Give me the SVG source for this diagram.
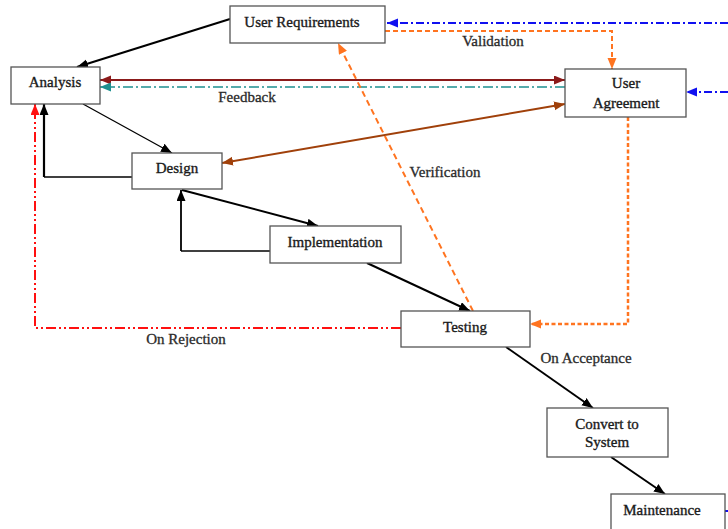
<svg xmlns="http://www.w3.org/2000/svg" width="728" height="529" viewBox="0 0 728 529">
  <style>
    .box { fill: #fff; stroke: #555; stroke-width: 1.3; }
    .lbl { font-family: "Liberation Serif", "Times New Roman", serif; font-size: 15px; fill: #1a1a1a; stroke: #1a1a1a; stroke-width: 0.35; text-anchor: middle; }
    .note { font-family: "Liberation Serif", "Times New Roman", serif; font-size: 15px; fill: #2a2a2a; stroke: #2a2a2a; stroke-width: 0.3; text-anchor: middle; }
    .ln { fill: none; }
  </style>
  <defs>
    <marker id="ahBlack" markerUnits="userSpaceOnUse" markerWidth="12" markerHeight="10" refX="11" refY="4.5" orient="auto-start-reverse"><path d="M0,0 L11,4.5 L0,9 z" fill="#000"/></marker>
    <marker id="ahMaroon" markerUnits="userSpaceOnUse" markerWidth="12" markerHeight="10" refX="11" refY="4.5" orient="auto-start-reverse"><path d="M0,0 L11,4.5 L0,9 z" fill="#8b1a1a"/></marker>
    <marker id="ahTeal" markerUnits="userSpaceOnUse" markerWidth="12" markerHeight="10" refX="11" refY="4.5" orient="auto-start-reverse"><path d="M0,0 L11,4.5 L0,9 z" fill="#1e9090"/></marker>
    <marker id="ahBrown" markerUnits="userSpaceOnUse" markerWidth="12" markerHeight="10" refX="11" refY="4.5" orient="auto-start-reverse"><path d="M0,0 L11,4.5 L0,9 z" fill="#a0400a"/></marker>
    <marker id="ahOrange" markerUnits="userSpaceOnUse" markerWidth="12" markerHeight="10" refX="11" refY="4.5" orient="auto-start-reverse"><path d="M0,0 L11,4.5 L0,9 z" fill="#ff7420"/></marker>
    <marker id="ahBlue" markerUnits="userSpaceOnUse" markerWidth="12" markerHeight="10" refX="11" refY="4.5" orient="auto-start-reverse"><path d="M0,0 L11,4.5 L0,9 z" fill="#1010f0"/></marker>
    <marker id="ahRed" markerUnits="userSpaceOnUse" markerWidth="12" markerHeight="10" refX="11" refY="4.5" orient="auto-start-reverse"><path d="M0,0 L11,4.5 L0,9 z" fill="#ff1010"/></marker>
  </defs>

  <rect width="728" height="529" fill="#fff"/>

  <g id="connectors">
    <!-- incoming blue dash-dot links from the right -->
    <path class="ln" d="M728,23 L387,23" stroke="#1010f0" stroke-width="2" stroke-dasharray="8,3,2,3" marker-end="url(#ahBlue)"/>
    <path class="ln" d="M728,92 L686,92" stroke="#1010f0" stroke-width="2" stroke-dasharray="8,3,2,3" marker-end="url(#ahBlue)"/>
    <path class="ln" d="M725,511 L740,511" stroke="#1010f0" stroke-width="2"/>

    <!-- User Requirements to Analysis -->
    <path class="ln" d="M230,19 L77,67" stroke="#000" stroke-width="2" marker-end="url(#ahBlack)"/>

    <!-- Analysis / User Agreement -->
    <path class="ln" d="M100,80 L565,80" stroke="#8b1a1a" stroke-width="2.2" marker-start="url(#ahMaroon)" marker-end="url(#ahMaroon)"/>
    <path class="ln" d="M565,87 L100,87" stroke="#1e9090" stroke-width="1.6" stroke-dasharray="10,3,2,3" marker-end="url(#ahTeal)"/>

    <!-- Validation -->
    <path class="ln" d="M385,31 L612,31 L612,69" stroke="#ff7420" stroke-width="2" stroke-dasharray="5,3" marker-end="url(#ahOrange)"/>

    <!-- Analysis to Design -->
    <path class="ln" d="M83,104 L172,153" stroke="#000" stroke-width="1.3" marker-end="url(#ahBlack)"/>
    <!-- Design back to Analysis -->
    <path class="ln" d="M132,177 L44,177" stroke="#000" stroke-width="1.3"/>
    <path class="ln" d="M44,177 L44,104" stroke="#000" stroke-width="2.2" marker-end="url(#ahBlack)"/>

    <!-- User Agreement / Design -->
    <path class="ln" d="M222,163 L565,104" stroke="#a0400a" stroke-width="2" marker-start="url(#ahBrown)" marker-end="url(#ahBrown)"/>

    <!-- Design / Implementation -->
    <path class="ln" d="M182,190 L318,226" stroke="#000" stroke-width="2" marker-end="url(#ahBlack)"/>
    <path class="ln" d="M270,251 L181,251" stroke="#000" stroke-width="1.3"/>
    <path class="ln" d="M181,251 L181,190" stroke="#000" stroke-width="1.8" marker-end="url(#ahBlack)"/>

    <!-- Implementation to Testing -->
    <path class="ln" d="M367,263 L470,311" stroke="#000" stroke-width="2" marker-end="url(#ahBlack)"/>

    <!-- Verification -->
    <path class="ln" d="M473,311 L338,43" stroke="#ff7420" stroke-width="2" stroke-dasharray="6,4" marker-end="url(#ahOrange)"/>

    <!-- User Agreement to Testing -->
    <path class="ln" d="M628,117 L628,324 L530,324" stroke="#ff7420" stroke-width="2.5" stroke-dasharray="4,2.5" marker-end="url(#ahOrange)"/>

    <!-- On Rejection -->
    <path class="ln" d="M401,328 L35,328 L35,104" stroke="#ff1010" stroke-width="2" stroke-dasharray="10,3,2,3,2,3" marker-end="url(#ahRed)"/>

    <!-- On Acceptance -->
    <path class="ln" d="M506,347 L593,408" stroke="#000" stroke-width="2" marker-end="url(#ahBlack)"/>

    <!-- Convert to Maintenance -->
    <path class="ln" d="M611,457 L665,494" stroke="#000" stroke-width="2" marker-end="url(#ahBlack)"/>
  </g>

  <g id="connector-labels">
    <text class="note" x="247" y="102">Feedback</text>
    <text class="note" x="493" y="46">Validation</text>
    <text class="note" x="445" y="177">Verification</text>
    <text class="note" x="186" y="344">On Rejection</text>
    <text class="note" x="586" y="363">On Acceptance</text>
  </g>

  <g id="user-requirements">
    <rect class="box" x="230" y="6" width="155" height="37"/>
    <text class="lbl" x="302" y="27">User Requirements</text>
  </g>
  <g id="analysis">
    <rect class="box" x="11" y="67" width="89" height="37"/>
    <text class="lbl" x="55" y="87">Analysis</text>
  </g>
  <g id="user-agreement">
    <rect class="box" x="565" y="69" width="121" height="48"/>
    <text class="lbl" x="626" y="88">User</text>
    <text class="lbl" x="626" y="108">Agreement</text>
  </g>
  <g id="design">
    <rect class="box" x="132" y="153" width="90" height="36"/>
    <text class="lbl" x="177" y="173">Design</text>
  </g>
  <g id="implementation">
    <rect class="box" x="270" y="226" width="131" height="37"/>
    <text class="lbl" x="335" y="247">Implementation</text>
  </g>
  <g id="testing">
    <rect class="box" x="401" y="311" width="129" height="36"/>
    <text class="lbl" x="465" y="332">Testing</text>
  </g>
  <g id="convert-to-system">
    <rect class="box" x="547" y="408" width="121" height="49"/>
    <text class="lbl" x="607" y="429">Convert to</text>
    <text class="lbl" x="607" y="447">System</text>
  </g>
  <g id="maintenance">
    <rect class="box" x="611" y="494" width="114" height="45"/>
    <text class="lbl" x="662" y="515">Maintenance</text>
  </g>
</svg>
